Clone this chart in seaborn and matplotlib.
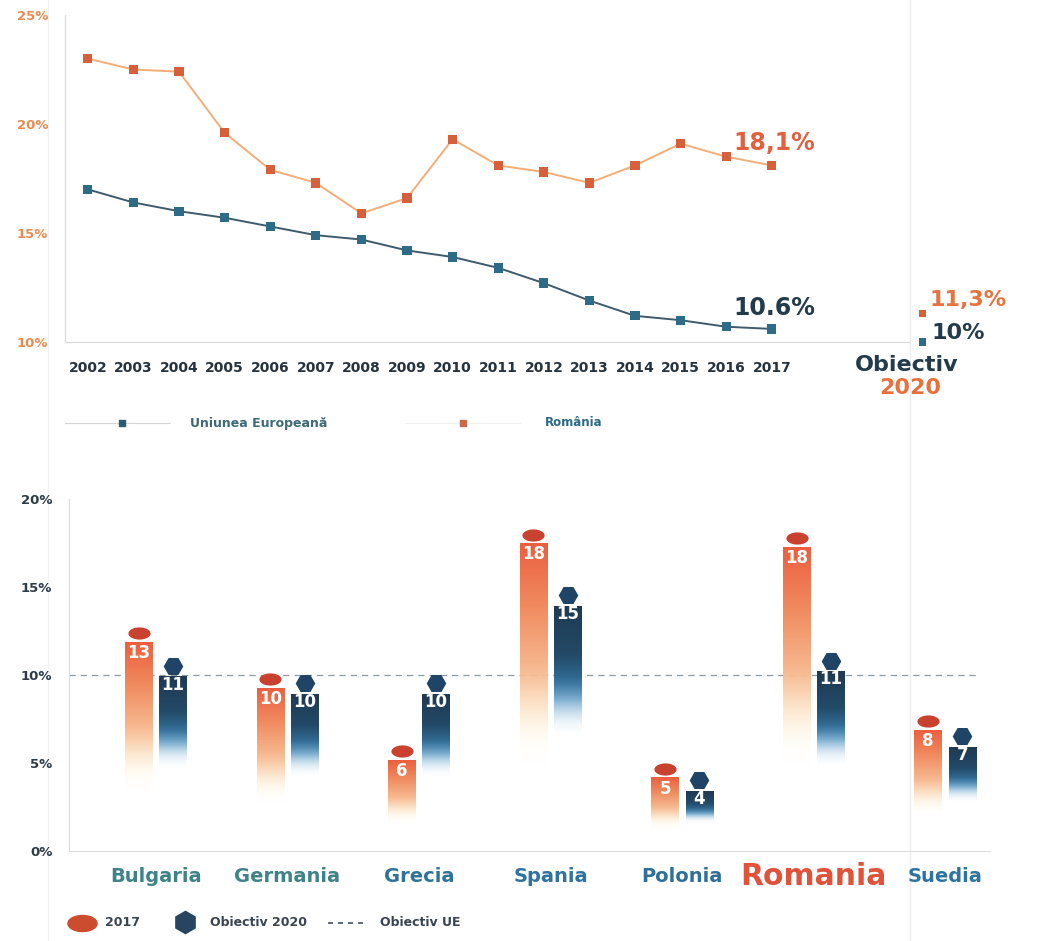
import numpy as np
import pandas as pd
import matplotlib
matplotlib.use("Agg")
import matplotlib.pyplot as plt
import seaborn as sns
from matplotlib.colors import LinearSegmentedColormap

# Rata de parasire timpurie a scolii (%)
years = list(range(2002, 2018))
eu_rate = [17.0, 16.4, 16.0, 15.7, 15.3, 14.9, 14.7, 14.2, 13.9, 13.4, 12.7, 11.9, 11.2, 11.0, 10.7, 10.6]
ro_rate = [23.0, 22.5, 22.4, 19.6, 17.9, 17.3, 15.9, 16.6, 19.3, 18.1, 17.8, 17.3, 18.1, 19.1, 18.5, 18.1]
target_year = 2020
eu_target = 10.0
ro_target = 11.3

# Comparatie pe tari
countries = ["Bulgaria", "Germania", "Grecia", "Spania", "Polonia", "Romania", "Suedia"]
rate_2017 = [12.7, 10.1, 6.0, 18.3, 5.0, 18.1, 7.7]
target_2020 = [11, 10, 10, 15, 4.5, 11.3, 7]
label_2017 = ["13", "10", "6", "18", "5", "18", "8"]
label_2020 = ["11", "10", "10", "15", "4", "11", "7"]
eu_goal = 10

sns.set_theme(style="white")
plt.rcParams["font.family"] = ["DejaVu Sans"]
plt.rcParams["font.weight"] = "bold"

W, H = 1058, 941
fig = plt.figure(figsize=(W / 100, H / 100), dpi=100)


def box(l, t, r, b):
    return [l / W, 1 - b / H, (r - l) / W, (b - t) / H]


# overlay axes in pixel coordinates for legends and big labels
over = fig.add_axes([0, 0, 1, 1], zorder=0)
over.set_xlim(0, W)
over.set_ylim(H, 0)
over.axis("off")
over.plot([48, 48], [0, H], color="#f2f2f2", lw=1)
over.plot([910, 910], [0, H], color="#eeeeee", lw=1)

DARK = "#233b4b"
ORANGE = "#e2603d"

# ---------- top chart: line plot ----------
ax1 = fig.add_axes(box(65, 15, 910, 342), zorder=1)
ax1.patch.set_alpha(0)

trend = pd.DataFrame({
    "an": years * 2,
    "rata": eu_rate + ro_rate,
    "zona": ["Uniunea Europeană"] * len(years) + ["România"] * len(years),
})
target = pd.DataFrame({
    "an": [target_year + 0.3, target_year + 0.3],
    "rata": [eu_target, ro_target],
    "zona": ["Uniunea Europeană", "România"],
})
line_pal = {"Uniunea Europeană": "#3f5a6b", "România": "#f3ad78"}
mark_pal = {"Uniunea Europeană": "#2d6b86", "România": "#d65f3c"}

sns.lineplot(data=trend, x="an", y="rata", hue="zona", palette=line_pal,
             lw=1.4, legend=False, ax=ax1)
sns.scatterplot(data=trend, x="an", y="rata", hue="zona", palette=mark_pal,
                marker="s", s=45, edgecolor="none", legend=False, ax=ax1, zorder=3)
sns.scatterplot(data=target, x="an", y="rata", hue="zona", palette=mark_pal,
                marker="s", s=30, edgecolor="none", legend=False, ax=ax1,
                zorder=3, clip_on=False)

ax1.set_xlim(2001.5, 2020.03)
ax1.set_ylim(10, 25)
ax1.set_xlabel("")
ax1.set_ylabel("")
ax1.set_xticks(years)
ax1.set_xticklabels(years, fontsize=10, fontweight="bold", color="#26323d")
ax1.set_xticks(np.arange(2002.5, 2020, 1), minor=True)
ax1.tick_params(axis="x", which="major", length=0, pad=14)
ax1.tick_params(axis="x", which="minor", length=4, direction="in", color="#d4d4d4", width=0.8)
ax1.set_yticks([10, 15, 20, 25])
ax1.set_yticklabels(["10%", "15%", "20%", "25%"], fontsize=9.5, fontweight="bold", color="#ea8a52")
ax1.tick_params(axis="y", length=4, direction="in", color="#d4d4d4", width=0.8, pad=12)
for side in ["top", "right"]:
    ax1.spines[side].set_visible(False)
for side in ["left", "bottom"]:
    ax1.spines[side].set_color("#d9d9d9")
    ax1.spines[side].set_linewidth(0.8)

over.text(733, 143, "18,1%", fontsize=17, fontweight="bold", color=ORANGE, va="center")
over.text(733, 308, "10.6%", fontsize=17, fontweight="bold", color=DARK, va="center")
over.text(929, 300, "11,3%", fontsize=16, fontweight="bold", color="#e8733f", va="center")
over.text(931, 333, "10%", fontsize=16, fontweight="bold", color=DARK, va="center")
over.text(907, 365, "Obiectiv", fontsize=16, fontweight="bold", color=DARK, ha="center", va="center")
over.text(910, 388, "2020", fontsize=16, fontweight="bold", color="#e8703c", ha="center", va="center")

# top legend
over.plot([65, 170], [423, 423], color="#d5d5d5", lw=0.8)
over.plot([122], [423], marker="s", ms=5, color="#2f5c6c", ls="none")
over.text(190, 423, "Uniunea Europeană", fontsize=9, fontweight="bold", color="#3c6a76", va="center")
over.plot([405, 520], [423, 423], color="#efefef", lw=0.8)
over.plot([463], [423], marker="s", ms=5, color="#c8694a", ls="none")
over.text(545, 423, "România", fontsize=8.5, fontweight="bold", color="#2b6a86", va="center")

# ---------- bottom chart: gradient bars ----------
ax2 = fig.add_axes(box(69, 499, 990, 851), zorder=1)
ax2.patch.set_alpha(0)

comp = pd.DataFrame({
    "tara": countries * 2,
    "valoare": rate_2017 + target_2020,
    "serie": ["2017"] * len(countries) + ["Obiectiv 2020"] * len(countries),
})
sns.barplot(data=comp, x="tara", y="valoare", hue="serie", width=0.52, gap=0.2,
            palette={"2017": "#eb5f3f", "Obiectiv 2020": "#1f3a52"},
            errorbar=None, legend=False, ax=ax2)


def gradient(stops, t0, t1, n=256):
    t = np.linspace(0, 1, n)
    rgba = LinearSegmentedColormap.from_list("g", stops)(t)
    a = np.clip((t - t0) / (t1 - t0), 0, 1)
    rgba[:, 3] = a * a * (3 - 2 * a)
    return rgba[:, None, :]


grad17 = gradient([(0, "#fff8e0"), (0.35, "#fff0c8"), (0.55, "#f8c29a"),
                   (0.8, "#f08a5e"), (1, "#eb5f3f")], 0.27, 0.62)
grad20 = gradient([(0, "#eaf4fa"), (0.5, "#9ccbe6"), (0.62, "#3d86b8"),
                   (0.8, "#234a68"), (1, "#1f3a52")], 0.46, 0.72)

th = np.linspace(0, 2 * np.pi, 40)
ellipse = np.column_stack([np.cos(th), 0.55 * np.sin(th)])

styles = [
    (grad17, "#c9412f", ellipse, 256, 0.34, 0.85, 1.45),
    (grad20, "#1f4466", "H", 200, 0.48, 1.1, 1.55),
]
for cont, labels, (img, cap_col, mk, size, cap_off, top_off, lab_off) in zip(
        ax2.containers, [label_2017, label_2020], styles):
    for bar, lab in zip(cont, labels):
        x0, w, h = bar.get_x(), bar.get_width(), bar.get_height()
        bar.set_facecolor("none")
        bar.set_edgecolor("none")
        ax2.imshow(img, extent=[x0, x0 + w, 0, h - top_off], origin="lower",
                   aspect="auto", interpolation="bilinear", zorder=1)
        ax2.scatter([x0 + w / 2], [h - cap_off], marker=mk, s=size, color=cap_col,
                    linewidths=0, zorder=3)
        ax2.text(x0 + w / 2, h - lab_off, lab, color="white", ha="center", va="center",
                 fontsize=12, fontweight="bold", zorder=4)

ax2.axhline(eu_goal, xmax=0.989, color="#8c9aa3", ls=(0, (5, 4)), lw=0.9, zorder=0.5)

ax2.set_xlim(-0.66, 6.34)
ax2.set_ylim(0, 20)
ax2.set_xlabel("")
ax2.set_ylabel("")
ax2.set_yticks([0, 5, 10, 15, 20])
ax2.set_yticklabels(["0%", "5%", "10%", "15%", "20%"], fontsize=9.5, fontweight="bold", color="#2e3b48")
ax2.tick_params(axis="y", length=4, direction="in", color="#d4d4d4", width=0.8, pad=12)
ax2.set_xticks(range(len(countries)))
ax2.set_xticklabels(countries)
ax2.tick_params(axis="x", length=0, pad=18.7)
label_colors = ["#3f8389", "#3f8389", "#2f7498", "#2f74a0", "#2f6f98", "#e0523a", "#2f74a0"]
for tl, col in zip(ax2.get_xticklabels(), label_colors):
    tl.set_color(col)
    tl.set_fontweight("bold")
    tl.set_verticalalignment("center")
    tl.set_fontsize(21.5 if tl.get_text() == "Romania" else 14)
for side in ["top", "right"]:
    ax2.spines[side].set_visible(False)
for side in ["left", "bottom"]:
    ax2.spines[side].set_color("#dcdcdc")
    ax2.spines[side].set_linewidth(0.8)

# bottom legend
over.plot([82], [923], marker=ellipse, ms=21, color="#cc4c30", ls="none")
over.text(105, 923, "2017", fontsize=9, fontweight="bold", color="#3a4450", va="center")
over.plot([185], [922], marker="h", ms=16, color="#274560", ls="none")
over.text(210, 923, "Obiectiv 2020", fontsize=9, fontweight="bold", color="#3a4450", va="center")
over.plot([328, 367], [923, 923], color="#44505a", lw=1.2, ls=(0, (3, 3)))
over.text(380, 923, "Obiectiv UE", fontsize=9, fontweight="bold", color="#3a4450", va="center")

fig.savefig("out.png", dpi=100)
